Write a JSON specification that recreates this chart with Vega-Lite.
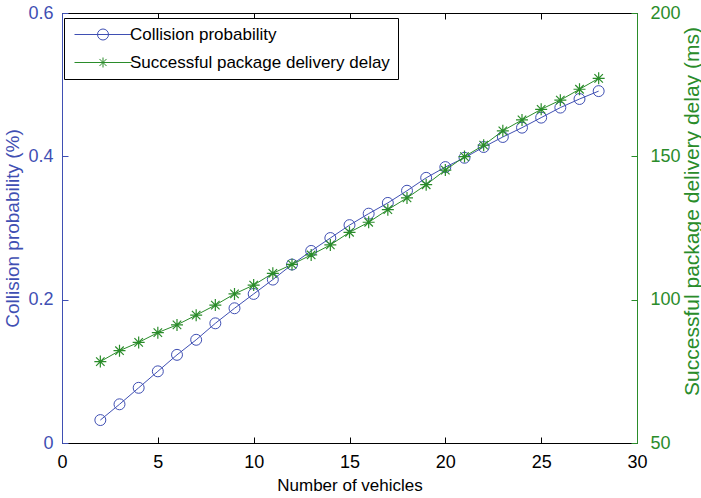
{
  "$schema": "https://vega.github.io/schema/vega-lite/v6.json",
  "width": 575,
  "height": 430,
  "autosize": {"type": "none"},
  "padding": {"left": 62, "top": 13, "right": 64, "bottom": 55},
  "background": "white",
  "config": {
    "view": {"stroke": null},
    "font": "Liberation Sans",
    "axis": {"grid": false, "labelFont": "Liberation Sans", "titleFont": "Liberation Sans", "titleFontWeight": "normal", "domainWidth": 1, "tickWidth": 1}
  },
  "data": {
    "values": [
      {"n": 2, "collision": 0.032, "delay": 78.4},
      {"n": 3, "collision": 0.054, "delay": 82.2},
      {"n": 4, "collision": 0.077, "delay": 85.1},
      {"n": 5, "collision": 0.100, "delay": 88.5},
      {"n": 6, "collision": 0.123, "delay": 91.2},
      {"n": 7, "collision": 0.144, "delay": 94.6},
      {"n": 8, "collision": 0.167, "delay": 98.1},
      {"n": 9, "collision": 0.188, "delay": 102.0},
      {"n": 10, "collision": 0.208, "delay": 105.1},
      {"n": 11, "collision": 0.228, "delay": 109.2},
      {"n": 12, "collision": 0.249, "delay": 112.3},
      {"n": 13, "collision": 0.268, "delay": 115.6},
      {"n": 14, "collision": 0.286, "delay": 119.1},
      {"n": 15, "collision": 0.304, "delay": 123.5},
      {"n": 16, "collision": 0.320, "delay": 127.0},
      {"n": 17, "collision": 0.335, "delay": 131.4},
      {"n": 18, "collision": 0.352, "delay": 135.5},
      {"n": 19, "collision": 0.370, "delay": 140.1},
      {"n": 20, "collision": 0.385, "delay": 145.2},
      {"n": 21, "collision": 0.398, "delay": 149.9},
      {"n": 22, "collision": 0.413, "delay": 153.9},
      {"n": 23, "collision": 0.427, "delay": 158.9},
      {"n": 24, "collision": 0.440, "delay": 162.7},
      {"n": 25, "collision": 0.454, "delay": 166.4},
      {"n": 26, "collision": 0.468, "delay": 169.6},
      {"n": 27, "collision": 0.480, "delay": 173.4},
      {"n": 28, "collision": 0.491, "delay": 177.2}
    ]
  },
  "layer": [
    {
      "layer": [
        {
          "mark": {"type": "line", "color": "#3f4fb3", "strokeWidth": 1},
          "encoding": {
            "x": {"field": "n", "type": "quantitative", "scale": {"domain": [0, 30], "nice": false},
              "axis": {"orient": "bottom", "values": [0, 5, 10, 15, 20, 25, 30], "tickSize": -6, "labelFlush": false, "labelFontSize": 18, "labelColor": "black", "labelPadding": 16, "domainColor": "black", "tickColor": "black", "title": "Number of vehicles", "titleFontSize": 17, "titleColor": "black", "titleY": 42, "titleBaseline": "middle"}},
            "y": {"field": "collision", "type": "quantitative", "scale": {"domain": [0, 0.6], "nice": false},
              "axis": {"orient": "left", "values": [0, 0.2, 0.4, 0.6], "format": ".1~f", "tickSize": -6, "labelFontSize": 18, "labelColor": "#3f4fb3", "labelPadding": 15, "domainColor": "#3f4fb3", "tickColor": "#3f4fb3", "title": "Collision probability (%)", "titleFontSize": 19, "titleColor": "#3f4fb3", "titleX": -50, "titleY": 215, "titleBaseline": "middle", "titleAlign": "center"}}
          }
        },
        {
          "mark": {"type": "point", "shape": "circle", "size": 120, "filled": false, "color": "#3f4fb3", "strokeWidth": 1, "opacity": 1},
          "encoding": {
            "x": {"field": "n", "type": "quantitative"},
            "y": {"field": "collision", "type": "quantitative"}
          }
        },
        {
          "data": {"values": [{"series": "Collision probability"}, {"series": "Successful package delivery delay"}]},
          "mark": {"type": "point", "filled": false, "opacity": 0, "strokeWidth": 1},
          "encoding": {
            "color": {"field": "series", "type": "nominal",
              "scale": {"domain": ["Collision probability", "Successful package delivery delay"], "range": ["#3f4fb3", "#2a8c2a"]},
              "legend": {"title": null, "orient": "none", "legendX": 2, "legendY": 5, "strokeColor": "black", "fillColor": "white", "padding": 8, "labelFontSize": 17, "labelFont": "Liberation Sans", "labelColor": "black", "labelOffset": 41, "labelLimit": 0, "rowPadding": 10, "symbolSize": 144, "symbolOpacity": 1, "symbolStrokeWidth": 1}},
            "shape": {"field": "series", "type": "nominal",
              "scale": {"domain": ["Collision probability", "Successful package delivery delay"],
                "range": [
                  "M-1,0H8.5M4.667,0L4.597,0.351L4.398,0.648L4.101,0.847L3.75,0.917L3.399,0.847L3.102,0.648L2.903,0.351L2.833,0L2.903,-0.351L3.102,-0.648L3.399,-0.847L3.75,-0.917L4.101,-0.847L4.398,-0.648L4.597,-0.351Z",
                  "M-1,0H8.5M3.75,-0.833V0.833M2.917,0H4.583M3.161,-0.589L4.339,0.589M3.161,0.589L4.339,-0.589"
                ]},
              "legend": {"title": null, "orient": "none", "legendX": 2, "legendY": 5, "strokeColor": "black", "fillColor": "white", "padding": 8, "labelFontSize": 17, "labelFont": "Liberation Sans", "labelColor": "black", "labelOffset": 41, "labelLimit": 0, "rowPadding": 10, "symbolSize": 144, "symbolOpacity": 1, "symbolStrokeWidth": 1}}
          }
        }
      ]
    },
    {
      "layer": [
        {
          "mark": {"type": "line", "color": "#2a8c2a", "strokeWidth": 1},
          "encoding": {
            "x": {"field": "n", "type": "quantitative",
              "axis": {"orient": "top", "values": [0, 5, 10, 15, 20, 25, 30], "tickSize": -6, "labels": false, "title": null, "domainColor": "black", "tickColor": "black"}},
            "y": {"field": "delay", "type": "quantitative", "scale": {"domain": [50, 200], "nice": false},
              "axis": {"orient": "right", "values": [50, 100, 150, 200], "tickSize": -6, "labelFontSize": 18, "labelColor": "#2a8c2a", "labelPadding": 19, "domainColor": "#2a8c2a", "tickColor": "#2a8c2a", "title": "Successful package delivery delay (ms)", "titleFontSize": 21, "titleColor": "#2a8c2a", "titleAngle": -90, "titleX": 55, "titleY": 198, "titleBaseline": "middle", "titleAlign": "center"}}
          }
        },
        {
          "mark": {"type": "point", "shape": "M0,-1V1M-1,0H1M-0.707,-0.707L0.707,0.707M-0.707,0.707L0.707,-0.707", "size": 144, "filled": false, "color": "#2a8c2a", "strokeWidth": 1.2, "opacity": 1},
          "encoding": {
            "x": {"field": "n", "type": "quantitative"},
            "y": {"field": "delay", "type": "quantitative"}
          }
        }
      ]
    }
  ],
  "resolve": {"scale": {"y": "independent"}, "axis": {"x": "independent"}}
}
